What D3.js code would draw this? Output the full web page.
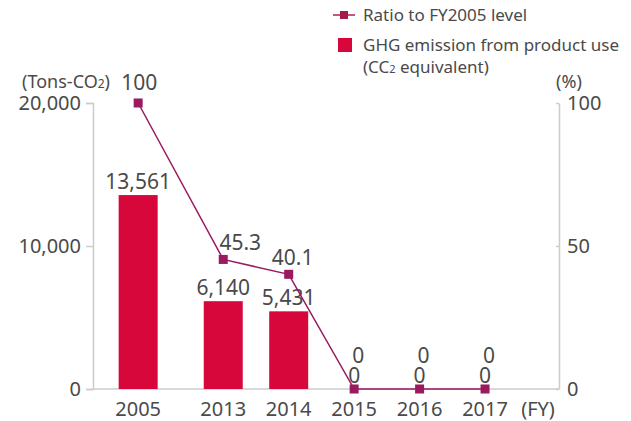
<!DOCTYPE html>
<html><head><meta charset="utf-8">
<script src="https://cdn.jsdelivr.net/npm/d3@7"></script>
<style>body{margin:0;background:#fff;} text{font-family:"Noto Sans",sans-serif;}</style>
</head><body>
<svg id="c" width="631" height="421"></svg>
<script>
const categories = ["2005","2013","2014","2015","2016","2017"];
const emissions = [13561, 6140, 5431, 0, 0, 0];
const emissionLabels = ["13,561","6,140","5,431","0","0","0"];
const ratio = [100, 45.3, 40.1, 0, 0, 0];
const ratioLabels = ["100","45.3","40.1","0","0","0"];
const leftTicks = [0, 10000, 20000];
const rightTicks = [0, 50, 100];

const svg = d3.select("#c");
const textCol = "#4a4a4a", axisCol = "#cccccc";
const barCol = "#d7063b", lineCol = "#9b1a5f";
const L = 93, R = 559, B = 389, T = 103;

// slot index: first year separated by a wider gap
const slot = (i) => i === 0 ? 0 : i + 0.3;
const x = d3.scaleLinear().domain([-0.69, 6.43]).range([L, R]);
const yL = d3.scaleLinear().domain([0, 20000]).range([B, T]);
const yR = d3.scaleLinear().domain([0, 100]).range([B, T]);

// axes
const gl = svg.append("g").attr("transform", `translate(${L},0)`)
  .call(d3.axisLeft(yL).tickValues(leftTicks).tickSize(7).tickPadding(5).tickFormat(d3.format(",")));
const gr = svg.append("g").attr("transform", `translate(${R},0)`)
  .call(d3.axisRight(yR).tickValues(rightTicks).tickSize(0).tickPadding(8));
[gl, gr].forEach(g => {
  g.select(".domain").attr("stroke", axisCol).attr("stroke-width", 1.5);
  g.selectAll(".tick line").attr("stroke", axisCol).attr("stroke-width", 1.5);
  g.selectAll(".tick text").attr("fill", textCol).attr("font-size", 20).attr("font-family", "Noto Sans");
});
gr.selectAll(".tick").append("line").attr("x1", -3).attr("x2", 0).attr("stroke", axisCol).attr("stroke-width", 1.5);
// bottom axis line
svg.append("line").attr("x1", L).attr("x2", R).attr("y1", B).attr("y2", B)
  .attr("stroke", axisCol).attr("stroke-width", 1.5);

// x labels
svg.selectAll("text.xl").data(categories).enter().append("text")
  .attr("x", (d, i) => x(slot(i))).attr("y", 416)
  .attr("text-anchor", "middle").attr("font-size", 20).attr("fill", textCol).text(d => d);
svg.append("text").attr("x", 538).attr("y", 416).attr("text-anchor", "middle")
  .attr("font-size", 20).attr("fill", textCol).text("(FY)");

// bars
const bw = 39;
svg.selectAll("rect.bar").data(emissions).enter().append("rect")
  .attr("x", (d, i) => x(slot(i)) - bw / 2).attr("width", bw)
  .attr("y", d => yL(d)).attr("height", d => B - yL(d)).attr("fill", barCol);

// bar labels
svg.selectAll("text.bl").data(emissions).enter().append("text")
  .attr("x", (d, i) => x(slot(i))).attr("y", d => yL(d) - 6)
  .attr("text-anchor", "middle").attr("font-size", 21).attr("fill", textCol)
  .text((d, i) => emissionLabels[i]);

// line
const line = d3.line().x((d, i) => x(slot(i))).y(d => yR(d));
svg.append("path").datum(ratio).attr("d", line).attr("fill", "none")
  .attr("stroke", lineCol).attr("stroke-width", 1.5);
svg.selectAll("rect.m").data(ratio).enter().append("rect")
  .attr("x", (d, i) => x(slot(i)) - 4.5).attr("y", d => yR(d) - 4.5)
  .attr("width", 9).attr("height", 9).attr("fill", lineCol);
// line labels
svg.selectAll("text.ll").data(ratio).enter().append("text")
  .attr("x", (d, i) => x(slot(i)) + (i === 0 ? 1 : (i === 1 ? 17 : 4)))
  .attr("y", (d, i) => d === 0 ? yL(emissions[i]) - 26 : yR(d) - (i === 0 ? 13 : 9))
  .attr("text-anchor", "middle").attr("font-size", 21).attr("fill", textCol)
  .text((d, i) => ratioLabels[i]);

// axis titles
const tt = svg.append("text").attr("x", 110).attr("y", 88).attr("text-anchor", "end")
  .attr("font-size", 18).attr("fill", textCol);
tt.append("tspan").text("(Tons-CO");
tt.append("tspan").attr("font-size", 12).text("2");
tt.append("tspan").text(")");
svg.append("text").attr("x", 569).attr("y", 88).attr("text-anchor", "middle")
  .attr("font-size", 18).attr("fill", textCol).text("(%)");

// legend
svg.append("line").attr("x1", 333).attr("x2", 355).attr("y1", 15).attr("y2", 15)
  .attr("stroke", "#c8557f").attr("stroke-width", 2);
svg.append("rect").attr("x", 340).attr("y", 11).attr("width", 8).attr("height", 8).attr("fill", "#a21d4e");
svg.append("text").attr("x", 363).attr("y", 21).attr("font-size", 17).attr("fill", textCol)
  .text("Ratio to FY2005 level");
svg.append("rect").attr("x", 338).attr("y", 38).attr("width", 14).attr("height", 14).attr("fill", barCol);
svg.append("text").attr("x", 363).attr("y", 51).attr("font-size", 17).attr("fill", textCol)
  .text("GHG emission from product use");
const lt = svg.append("text").attr("x", 363).attr("y", 73).attr("font-size", 17).attr("fill", textCol);
lt.append("tspan").text("(CC");
lt.append("tspan").attr("font-size", 11).text("2");
lt.append("tspan").text(" equivalent)");
</script>
</body></html>
